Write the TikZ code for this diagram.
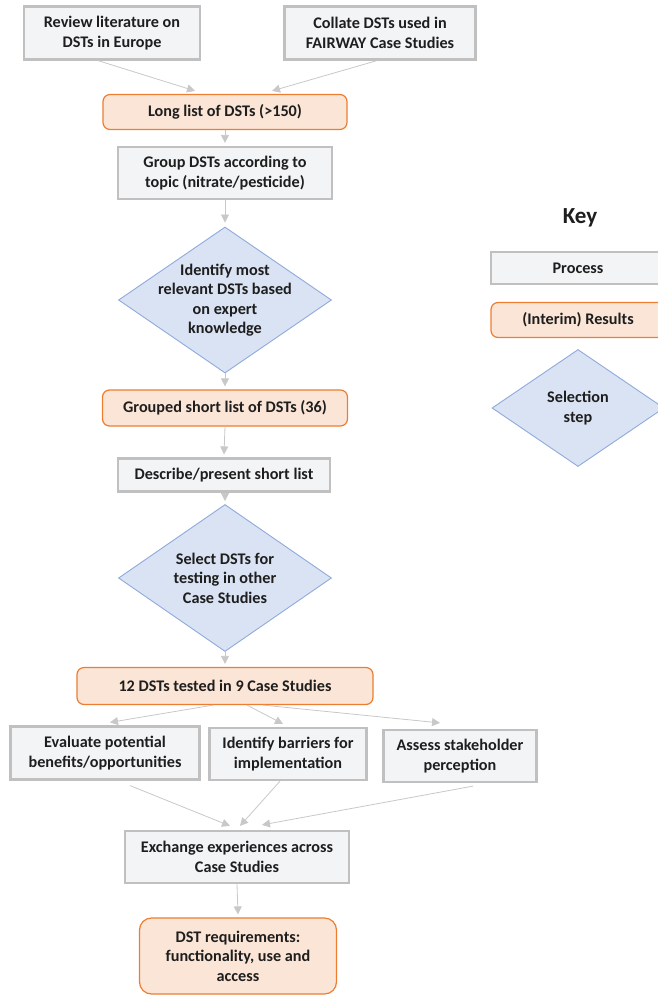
\documentclass[tikz,border=0pt]{standalone}
\usepackage{fontspec}
\setmainfont{Carlito}
\usetikzlibrary{shapes.geometric,arrows.meta,calc}

\definecolor{procfill}{RGB}{242,244,246}
\definecolor{procline}{RGB}{192,192,192}
\definecolor{resfill}{RGB}{251,229,214}
\definecolor{resline}{RGB}{237,125,49}
\definecolor{selfill}{RGB}{218,227,243}
\definecolor{selline}{RGB}{143,170,220}
\definecolor{arrowgray}{RGB}{200,200,200}
\definecolor{txtcol}{RGB}{30,30,30}

\tikzset{
  base/.style={align=center, text=txtcol, inner sep=0pt,
    font=\bfseries\fontsize{16.2}{19.5}\selectfont},
  procbox/.style={base, draw=procline, fill=procfill, line width=2.2pt},
  resbox/.style={base, draw=resline, fill=resfill, line width=1.2pt, rounded corners=7pt},
  selbox/.style={diamond, draw=selline, fill=selfill, line width=0.9pt, inner sep=0pt},
  seltext/.style={base},
  link/.style={draw=arrowgray, line width=0.8pt,
    -{Triangle[width=8pt,length=8pt]}},
}

\begin{document}
\begin{tikzpicture}[x=1pt, y=-1pt]
\useasboundingbox (0,0) rectangle (657,996);

% --- top inputs ---
\node[procbox, minimum width=176pt, minimum height=53pt] (rev) at (112,33)
  {Review literature on\\DSTs in Europe};
\node[procbox, minimum width=191pt, minimum height=53pt] (col) at (380,33)
  {Collate DSTs used in\\FAIRWAY Case Studies};
\node[resbox, minimum width=244pt, minimum height=35pt] (long) at (225,112)
  {Long list of DSTs (>150)};

% --- main column ---
\node[procbox, minimum width=214pt, minimum height=52pt] (grp) at (225,173)
  {Group DSTs according to\\topic (nitrate/pesticide)};
\node[selbox, minimum width=213pt, minimum height=146pt] (d1) at (225,300) {};
\node[seltext] (d1t) at (d1) {Identify most\\relevant DSTs based\\on expert\\knowledge};
\node[resbox, minimum width=245pt, minimum height=36pt] (gsl) at (225,408)
  {Grouped short list of DSTs (36)};
\node[procbox, minimum width=212pt, minimum height=33pt] (desc) at (224,475)
  {Describe/present short list};
\node[selbox, minimum width=213pt, minimum height=147pt] (d2) at (225,578) {};
\node[seltext] (d2t) at (d2) {Select DSTs for\\testing in other\\Case Studies};
\node[resbox, minimum width=296pt, minimum height=37pt] (t12) at (225,686)
  {12 DSTs tested in 9 Case Studies};

% --- parallel activities ---
\node[procbox, minimum width=189pt, minimum height=53pt] (ev) at (105,753)
  {Evaluate potential\\benefits/opportunities};
\node[procbox, minimum width=157pt, minimum height=52pt] (ib) at (288,754)
  {Identify barriers for\\implementation};
\node[procbox, minimum width=153pt, minimum height=52pt] (as) at (460,756)
  {Assess stakeholder\\perception};

% --- outcome ---
\node[procbox, minimum width=224pt, minimum height=52pt] (ex) at (237,857)
  {Exchange experiences across\\Case Studies};
\node[resbox, minimum width=197pt, minimum height=76pt, rounded corners=12pt] (req) at (238,956)
  {DST requirements:\\functionality, use and\\access};

% --- key ---
\node[base, font=\bfseries\fontsize{23}{27}\selectfont] (key) at (580,218) {Key};
\node[procbox, minimum width=174pt, minimum height=32pt] (kp) at (578,268) {Process};
\node[resbox, minimum width=174pt, minimum height=35pt] (kr) at (578,320) {(Interim) Results};
\node[selbox, minimum width=172pt, minimum height=117pt] (kd) at (578,408) {};
\node[seltext] (kdt) at (kd) {Selection\\step};

% --- connectors ---
\draw[link] ($(rev.south)+(-14,0)$) -- ($(long.north)+(-30,-3)$);
\draw[link] ($(col.south)+(-3,0)$) -- ($(long.north)+(47,-3)$);
\draw[link] (long.south) -- ($(grp.north)+(0,-3)$);
\draw[link] (grp.south) -- ($(d1.north)+(0,-4)$);
\draw[link] (d1.south) -- ($(gsl.north)+(0,-3)$);
\draw[link] (gsl.south) -- ($(desc.north)+(0,-3)$);
\draw[link] ($(desc.south)+(1,0)$) -- ($(d2.north)+(0,-3)$);
\draw[link] (d2.south) -- ($(t12.north)+(0,-3)$);
\draw[link] ($(t12.south)+(-12,0)$) -- ($(ev.north)+(5,-3)$);
\draw[link] ($(t12.south)+(22,0)$) -- ($(ib.north)+(-5,-3)$);
\draw[link] ($(t12.south)+(38,0)$) -- ($(as.north)+(-20,-6)$);
\draw[link] ($(ev.south)+(25,5)$) -- ($(ex.north)+(-7,-4)$);
\draw[link] ($(ib.south)+(-8,0)$) -- ($(ex.north)+(3,-4)$);
\draw[link] ($(as.south)+(13,3)$) -- ($(ex.north)+(25,-5)$);
\draw[link] (ex.south) -- ($(req.north)+(0,-3)$);
\end{tikzpicture}
\end{document}
